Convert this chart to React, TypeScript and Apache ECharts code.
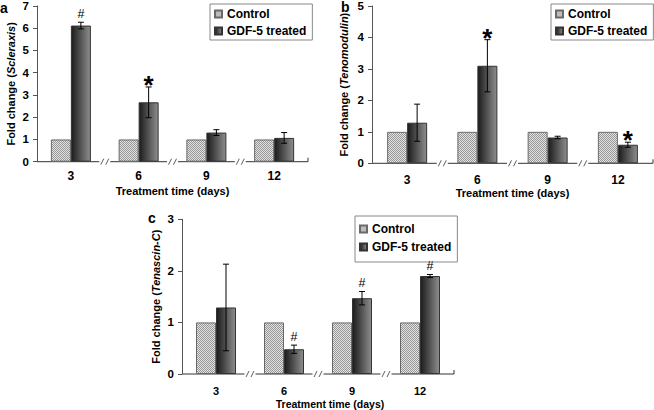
import React, { useEffect, useRef } from "react";
import * as echarts from "echarts";

// ---------- data ----------
const categories = ["3", "6", "9", "12"];

const controlA = [1, 1, 1, 1];
const gdfA = [6.12, 2.67, 1.31, 1.07];
const errA = [0.15, 0.69, 0.13, 0.24];
const markA = ["#", "*", "", ""];

const controlB = [1, 1, 1, 1];
const gdfB = [1.29, 3.1, 0.82, 0.59];
const errB = [0.59, 0.83, 0.04, 0.08];
const markB = ["", "*", "", "*"];

const controlC = [1, 1, 1, 1];
const gdfC = [1.29, 0.48, 1.47, 1.9];
const errC = [0.84, 0.08, 0.13, 0.03];
const markC = ["", "#", "#", "#"];

const yMaxA = 7;
const yMaxB = 5;
const yMaxC = 3;

const FONT = "'Liberation Sans', Arial, sans-serif";

function makeCheckerPattern(): any {
  const c = document.createElement("canvas");
  c.width = 4;
  c.height = 4;
  const ctx = c.getContext("2d")!;
  for (let y = 0; y < 4; y++) {
    for (let x = 0; x < 4; x++) {
      ctx.fillStyle = (x + y) % 2 === 0 ? "#979797" : "#e2e2e2";
      ctx.fillRect(x, y, 1, 1);
    }
  }
  return { image: c, repeat: "repeat" };
}

export default function App() {
  const ref = useRef<HTMLDivElement>(null);

  useEffect(() => {
    if (!ref.current) return;
    const chart = echarts.init(ref.current, undefined, { renderer: "svg" });

    const checker = makeCheckerPattern();
    const gdfGrad = new echarts.graphic.LinearGradient(0, 0, 1, 0, [
      { offset: 0, color: "#1b1b1b" },
      { offset: 1, color: "#8e8e8e" },
    ]);

    const panels = [
      {
        letter: "a",
        grid: { left: 37, top: 5, width: 271, height: 156.7 },
        yMax: yMaxA,
        gene: "Scleraxis",
        control: controlA,
        gdf: gdfA,
        err: errA,
        marks: markA,
        yNameGap: 21,
        xLabelMargin: 8,
        xLabelSize: 12,
        xNameSize: 11,
        xNamePad: [0, 0, 0, 0],
        letterPos: [0, 1],
        legend: { left: 210, top: 4, padding: [4, 6, 3, 4], itemGap: 5 },
      },
      {
        letter: "b",
        grid: { left: 372, top: 5, width: 281, height: 158.3 },
        yMax: yMaxB,
        gene: "Tenomodulin",
        control: controlB,
        gdf: gdfB,
        err: errB,
        marks: markB,
        yNameGap: 23,
        xLabelMargin: 10.5,
        xLabelSize: 12,
        xNameSize: 11,
        xNamePad: [0, 0, 0, 0],
        letterPos: [341, 0],
        legend: { left: 551, top: 4, padding: [4, 6, 3, 4], itemGap: 5 },
      },
      {
        letter: "c",
        grid: { left: 182, top: 219.3, width: 272, height: 154.7 },
        yMax: yMaxC,
        gene: "Tenascin-C",
        control: controlC,
        gdf: gdfC,
        err: errC,
        marks: markC,
        yNameGap: 21,
        xLabelMargin: 11,
        xLabelSize: 11,
        xNameSize: 10.5,
        xNamePad: [0, 0, 0, 24],
        letterPos: [148, 211],
        legend: { left: 355, top: 216, padding: [7, 6, 9, 4], itemGap: 6 },
      },
    ];

    const grids: any[] = [];
    const xAxes: any[] = [];
    const yAxes: any[] = [];
    const series: any[] = [];
    const legends: any[] = [];
    const graphics: any[] = [];

    panels.forEach((p, gi) => {
      grids.push({ ...p.grid, containLabel: false });
      xAxes.push({
        type: "category",
        gridIndex: gi,
        data: categories,
        axisLine: { show: false },
        axisTick: { show: false },
        axisLabel: {
          color: "#000",
          fontWeight: "bold",
          fontSize: p.xLabelSize,
          fontFamily: FONT,
          margin: p.xLabelMargin,
        },
        name: "Treatment time (days)",
        nameLocation: "middle",
        nameGap: 24,
        nameTextStyle: {
          color: "#000",
          fontWeight: "bold",
          fontSize: p.xNameSize,
          fontFamily: FONT,
          padding: p.xNamePad,
        },
      });
      yAxes.push({
        type: "value",
        gridIndex: gi,
        min: 0,
        max: p.yMax,
        interval: 1,
        splitLine: { show: false },
        axisLine: { show: true, lineStyle: { color: "#555", width: 1 } },
        axisTick: { show: true, length: 4, lineStyle: { color: "#555" } },
        axisLabel: {
          color: "#000",
          fontWeight: "bold",
          fontSize: 11.5,
          fontFamily: FONT,
          margin: 8,
        },
        name: "Fold change ({i|" + p.gene + "})",
        nameLocation: "middle",
        nameGap: p.yNameGap,
        nameTextStyle: {
          color: "#000",
          fontWeight: "bold",
          fontSize: 11,
          fontFamily: FONT,
          rich: {
            i: {
              fontStyle: "italic",
              fontWeight: "bold",
              fontSize: 11,
              fontFamily: FONT,
              color: "#000",
            },
          },
        },
      });

      series.push({
        type: "bar",
        name: "Control",
        xAxisIndex: gi,
        yAxisIndex: gi,
        data: p.control,
        barWidth: 20,
        barGap: "0%",
        itemStyle: { color: checker, borderColor: "#6a6a6a", borderWidth: 1 },
      });
      series.push({
        type: "bar",
        name: "GDF-5 treated",
        xAxisIndex: gi,
        yAxisIndex: gi,
        data: p.gdf,
        barWidth: 20,
        barGap: "0%",
        itemStyle: { color: gdfGrad, borderColor: "#333", borderWidth: 1 },
      });
      const marks = p.marks;
      series.push({
        type: "custom",
        name: "err" + gi,
        xAxisIndex: gi,
        yAxisIndex: gi,
        data: p.gdf.map((v, i) => [i, v, p.err[i]]),
        encode: { x: 0, y: 1 },
        z: 10,
        renderItem: (params: any, api: any) => {
          const i = api.value(0);
          const v = api.value(1);
          const e = api.value(2);
          const top = api.coord([i, v + e]);
          const bot = api.coord([i, v - e]);
          const x = top[0] + 10;
          const cap = 3;
          const children: any[] = [
            { type: "line", shape: { x1: x, y1: top[1], x2: x, y2: bot[1] }, style: { stroke: "#000", lineWidth: 1 } },
            { type: "line", shape: { x1: x - cap, y1: top[1], x2: x + cap, y2: top[1] }, style: { stroke: "#000", lineWidth: 1 } },
            { type: "line", shape: { x1: x - cap, y1: bot[1], x2: x + cap, y2: bot[1] }, style: { stroke: "#000", lineWidth: 1 } },
          ];
          const m = marks[params.dataIndex];
          if (m) {
            const isStar = m === "*";
            children.push({
              type: "text",
              x: x,
              y: isStar ? top[1] - 2 : top[1] - 8,
              style: {
                text: m,
                fill: "#000",
                fontFamily: FONT,
                fontSize: isStar ? 26 : 12.5,
                fontWeight: isStar ? "bold" : "normal",
                align: "center",
                verticalAlign: "middle",
                textAlign: "center",
                textVerticalAlign: "middle",
              },
            });
          }
          return { type: "group", children };
        },
      });

      legends.push({
        data: ["Control", "GDF-5 treated"],
        orient: "vertical",
        left: p.legend.left,
        top: p.legend.top,
        padding: p.legend.padding,
        itemGap: p.legend.itemGap,
        itemWidth: 7,
        itemHeight: 7,
        icon: "rect",
        backgroundColor: "#fff",
        borderColor: "#888",
        borderWidth: 1,
        borderRadius: 0,
        selectedMode: false,
        textStyle: { color: "#000", fontWeight: "bold", fontSize: 12, fontFamily: FONT },
      });

      // x-axis line with break marks at category boundaries
      const g = p.grid;
      const y0 = g.top + g.height;
      const band = g.width / categories.length;
      const half = 5.5;
      const lineStyle = { stroke: "#333", lineWidth: 1 };
      let start = g.left;
      for (let k = 1; k < categories.length; k++) {
        const bx = g.left + k * band;
        graphics.push({ type: "line", shape: { x1: start, y1: y0, x2: bx - half, y2: y0 }, style: lineStyle, silent: true });
        graphics.push({ type: "line", shape: { x1: bx - 4, y1: y0 + 3, x2: bx - 1, y2: y0 - 3 }, style: { stroke: "#333", lineWidth: 0.8 }, silent: true });
        graphics.push({ type: "line", shape: { x1: bx + 1, y1: y0 + 3, x2: bx + 4, y2: y0 - 3 }, style: { stroke: "#333", lineWidth: 0.8 }, silent: true });
        start = bx + half;
      }
      graphics.push({ type: "line", shape: { x1: start, y1: y0, x2: g.left + g.width, y2: y0 }, style: lineStyle, silent: true });
      graphics.push({ type: "line", shape: { x1: g.left + g.width, y1: y0, x2: g.left + g.width, y2: y0 - 4 }, style: lineStyle, silent: true });

      graphics.push({
        type: "text",
        left: p.letterPos[0],
        top: p.letterPos[1],
        style: { text: p.letter, fill: "#000", fontFamily: FONT, fontSize: 14, fontWeight: "bold" },
      });
    });

    chart.setOption({
      animation: false,
      backgroundColor: "#fff",
      grid: grids,
      xAxis: xAxes,
      yAxis: yAxes,
      series,
      legend: legends,
      graphic: graphics,
    });

    return () => chart.dispose();
  }, []);

  return (
    <div
      ref={ref}
      style={{ position: "absolute", left: 0, top: 0, width: 654, height: 410 }}
    />
  );
}
